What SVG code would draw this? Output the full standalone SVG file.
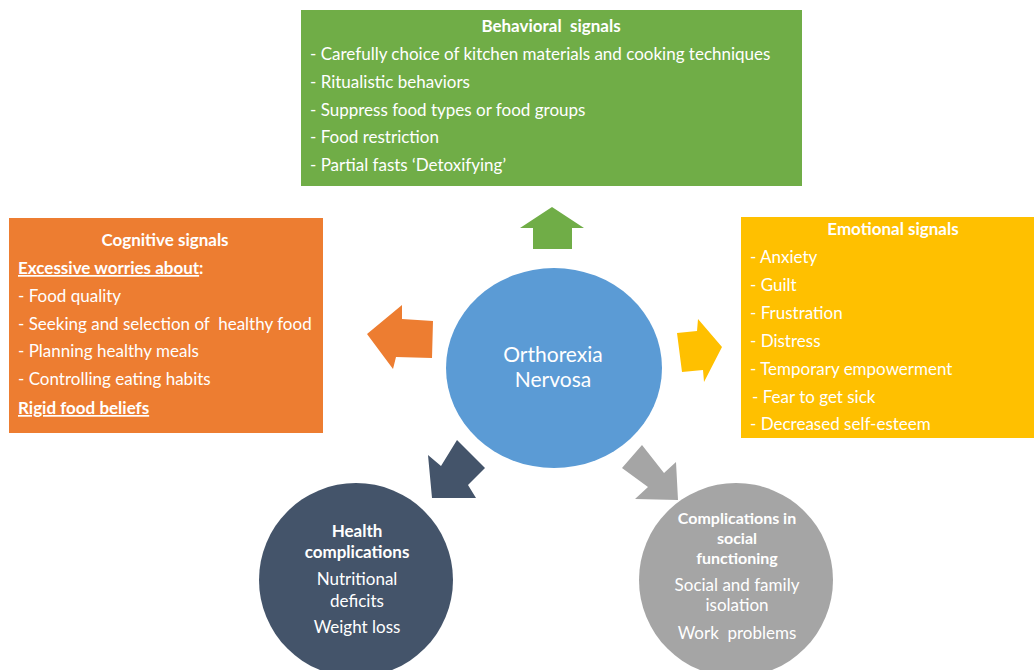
<svg xmlns="http://www.w3.org/2000/svg" width="1034" height="670" viewBox="0 0 1034 670">
<style>
text{font-family:Lato,"Open Sans","Liberation Sans",sans-serif;fill:#fff;font-size:17px;white-space:pre}
.b{font-weight:bold}
.c{text-anchor:middle}
.u{text-decoration:underline}
.s{font-size:16px}
</style>
<rect width="1034" height="670" fill="#fff"/>
<g id="connectors">
<polygon fill="#70AD47" points="552,207 584,228 572,228 572,249 533,249 533,228 520,228"/>
<polygon fill="#ED7D31" points="367,334 402,305 402,319 433,321 432,358 396,357 393,369"/>
<polygon fill="#FFC000" points="677,333 697,331 698,319 722,347 704,382 703,370 682,372"/>
<polygon fill="#44546A" points="457,440 485,468 468,485 476,498 432,498 428,455 441,466"/>
<polygon fill="#A5A5A5" points="642,445 664,473 676,462 678,500 635,499 648,487 622,468"/>
</g>
<g id="behavioral">
<rect x="301" y="10" width="501" height="176" fill="#70AD47"/>
<text class="b c" x="551" y="32">Behavioral  signals</text>
<text x="310" y="60">- Carefully choice of kitchen materials and cooking techniques</text>
<text x="310" y="88">- Ritualistic behaviors</text>
<text x="310" y="116">- Suppress food types or food groups</text>
<text x="310" y="143">- Food restriction</text>
<text x="310" y="171">- Partial fasts ‘Detoxifying’</text>
</g>
<g id="cognitive">
<rect x="9" y="218" width="314" height="215" fill="#ED7D31"/>
<text class="b c" x="165" y="246">Cognitive signals</text>
<text x="18" y="274"><tspan class="b u">Excessive worries about</tspan><tspan class="b">:</tspan></text>
<text x="18" y="302">- Food quality</text>
<text x="18" y="330">- Seeking and selection of  healthy food</text>
<text x="18" y="357">- Planning healthy meals</text>
<text x="18" y="385">- Controlling eating habits</text>
<text class="b u" x="18" y="414">Rigid food beliefs</text>
</g>
<g id="emotional">
<rect x="741" y="217" width="293" height="221" fill="#FFC000"/>
<text class="b c" x="893" y="235">Emotional signals</text>
<text x="750" y="263">- Anxiety</text>
<text x="750" y="291">- Guilt</text>
<text x="750" y="319">- Frustration</text>
<text x="750" y="347">- Distress</text>
<text x="750" y="375">- Temporary empowerment</text>
<text x="752" y="403">- Fear to get sick</text>
<text x="750" y="430">- Decreased self-esteem</text>
</g>
<g id="center">
<ellipse cx="554" cy="368" rx="108" ry="100" fill="#5B9BD5"/>
<text class="c" x="553" y="362" style="font-size:21px">Orthorexia</text>
<text class="c" x="553" y="387" style="font-size:21px">Nervosa</text>
</g>
<g id="health">
<circle cx="356" cy="580" r="97" fill="#44546A"/>
<text class="b c" x="357" y="537">Health</text>
<text class="b c" x="357" y="558">complications</text>
<text class="c" x="357" y="585">Nutritional</text>
<text class="c" x="357" y="607">deficits</text>
<text class="c" x="357" y="633">Weight loss</text>
</g>
<g id="social">
<circle cx="736" cy="580" r="97" fill="#A5A5A5"/>
<text class="b c s" x="737" y="524">Complications in</text>
<text class="b c s" x="737" y="544">social</text>
<text class="b c s" x="737" y="564">functioning</text>
<text class="c" x="737" y="591">Social and family</text>
<text class="c" x="737" y="611">isolation</text>
<text class="c" x="737" y="639">Work  problems</text>
</g>
</svg>
